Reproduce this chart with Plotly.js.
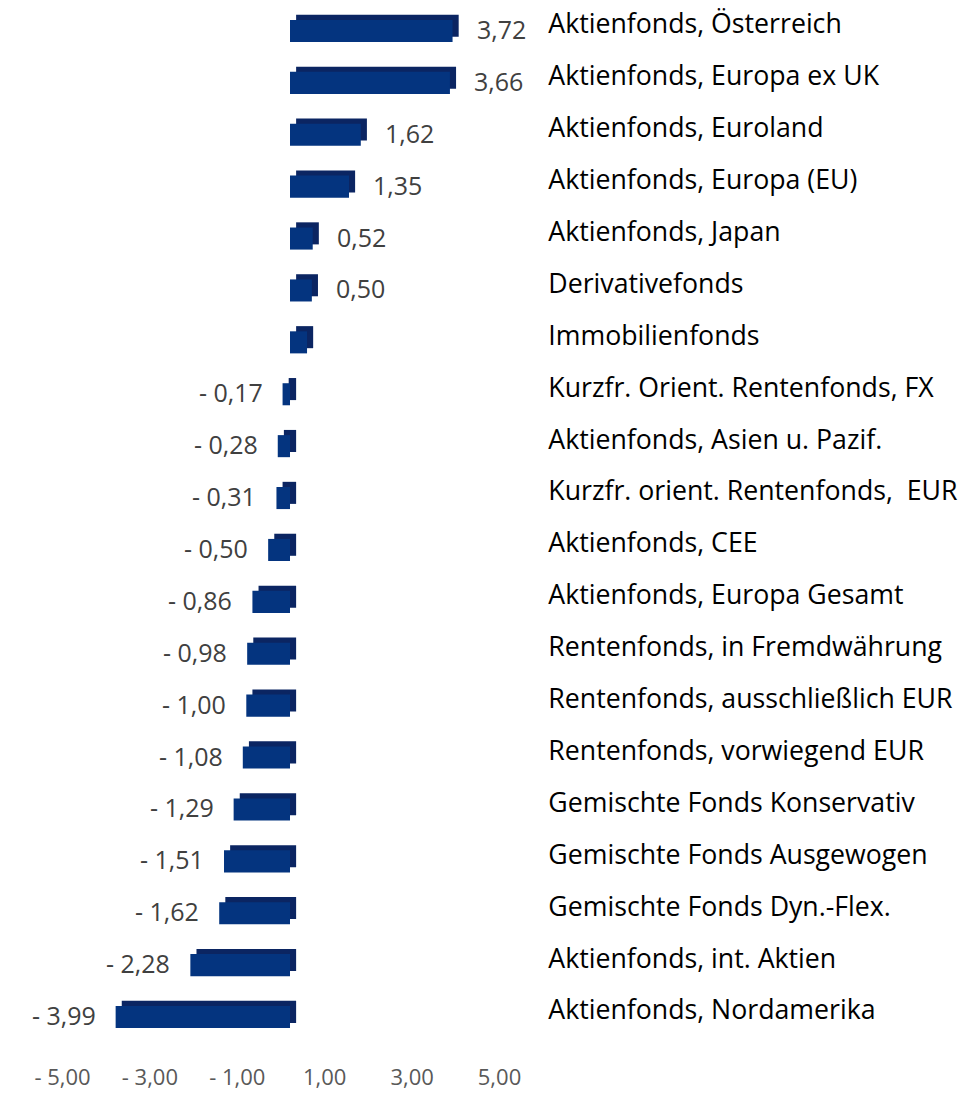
<!DOCTYPE html>
<html>
<head>
<meta charset="utf-8">
<script src="https://cdn.plot.ly/plotly-3.0.1.min.js"></script>
<style>
  html, body { margin: 0; padding: 0; background: #fff; }
  #chart { width: 959px; height: 1093px; }
</style>
</head>
<body>
<div id="chart"></div>
<script>
var categories = [
  "Aktienfonds, Österreich",
  "Aktienfonds, Europa ex UK",
  "Aktienfonds, Euroland",
  "Aktienfonds, Europa (EU)",
  "Aktienfonds, Japan",
  "Derivativefonds",
  "Immobilienfonds",
  "Kurzfr. Orient. Rentenfonds, FX",
  "Aktienfonds, Asien u. Pazif.",
  "Kurzfr. orient. Rentenfonds,  EUR",
  "Aktienfonds, CEE",
  "Aktienfonds, Europa Gesamt",
  "Rentenfonds, in Fremdwährung",
  "Rentenfonds, ausschließlich EUR",
  "Rentenfonds, vorwiegend EUR",
  "Gemischte Fonds Konservativ",
  "Gemischte Fonds Ausgewogen",
  "Gemischte Fonds Dyn.-Flex.",
  "Aktienfonds, int. Aktien",
  "Aktienfonds, Nordamerika"
];
var values = [3.72, 3.66, 1.62, 1.35, 0.52, 0.50, 0.39, -0.17, -0.28, -0.31,
              -0.50, -0.86, -0.98, -1.00, -1.08, -1.29, -1.51, -1.62, -2.28, -3.99];
var unlabeled = ["Immobilienfonds"];
var tickValues = [-5, -3, -1, 1, 3, 5];

function fmt(v) {
  var s = Math.abs(v).toFixed(2).replace(".", ",");
  return v < 0 ? "- " + s : s;
}

// pseudo 3D: a darker bar behind, shifted right and up
var depthX = 0.14, depthY = 0.1, barW = 0.425;

var back = {
  type: "bar", orientation: "h",
  y: categories, x: values,
  base: values.map(function () { return depthX; }),
  width: barW, offset: -barW / 2 - depthY,
  marker: { color: "#0b2562" },
  hoverinfo: "skip"
};
var front = {
  type: "bar", orientation: "h",
  y: categories, x: values,
  width: barW, offset: -barW / 2,
  marker: { color: "#04347f", line: { width: 0 } }
};

var annotations = [];
values.forEach(function (v, i) {
  if (unlabeled.indexOf(categories[i]) >= 0) return;
  annotations.push({
    x: v, y: categories[i], xref: "x", yref: "y",
    text: fmt(v), showarrow: false,
    xanchor: v < 0 ? "right" : "left",
    xshift: v < 0 ? -18 : 22,
    yshift: 2,
    font: { family: "Open Sans", size: 25, color: "#404040" }
  });
});

var layout = {
  width: 959, height: 1093,
  margin: { l: 0, r: 419, t: 5, b: 50 },
  paper_bgcolor: "#fff", plot_bgcolor: "#fff",
  barmode: "overlay",
  showlegend: false,
  font: { family: "Open Sans" },
  xaxis: {
    range: [-290 / 43.7, 250 / 43.7],
    tickvals: tickValues,
    ticktext: tickValues.map(fmt),
    ticks: "outside", ticklen: 15, tickcolor: "rgba(0,0,0,0)",
    ticklabelshift: -9,
    showgrid: false, zeroline: false, showline: false,
    tickfont: { family: "Open Sans", size: 22, color: "#595959" }
  },
  yaxis: {
    autorange: "reversed",
    side: "right",
    ticks: "outside", ticklen: 2, tickcolor: "rgba(0,0,0,0)",
    ticklabelshift: 7,
    showgrid: false, zeroline: false, showline: false,
    tickfont: { family: "Open Sans", size: 26.7, color: "#000" }
  },
  annotations: annotations
};

Plotly.newPlot("chart", [back, front], layout, { displayModeBar: false, staticPlot: true });
</script>
</body>
</html>
